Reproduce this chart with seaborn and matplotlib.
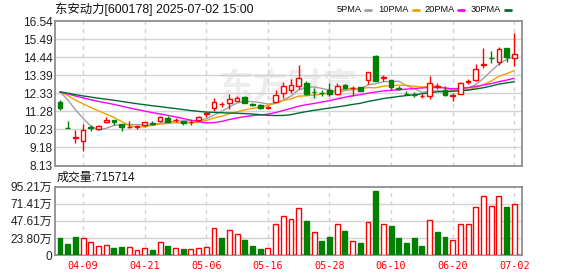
import matplotlib
matplotlib.use("Agg")
import matplotlib.pyplot as plt
from matplotlib.lines import Line2D
import seaborn as sns
import numpy as np
import pandas as pd

# ---------------- data ----------------
dates = ["04-03", "04-07", "04-08", "04-09", "04-10", "04-11", "04-14", "04-15", "04-16", "04-17",
         "04-18", "04-21", "04-22", "04-23", "04-24", "04-25", "04-28", "04-29", "04-30", "05-06",
         "05-07", "05-08", "05-09", "05-12", "05-13", "05-14", "05-15", "05-16", "05-19", "05-20",
         "05-21", "05-22", "05-23", "05-26", "05-27", "05-28", "05-29", "05-30", "06-03", "06-04",
         "06-05", "06-06", "06-09", "06-10", "06-11", "06-12", "06-13", "06-16", "06-17", "06-18",
         "06-19", "06-20", "06-23", "06-24", "06-25", "06-26", "06-27", "06-30", "07-01", "07-02"]

open_ = [11.83, 10.32, 9.74, 9.58, 10.35, 10.25, 10.64, 10.78, 10.53, 10.36,
         10.37, 10.47, 10.58, 10.70, 10.89, 10.77, 10.70, 10.64, 10.78, 11.15,
         11.45, 11.69, 11.74, 11.91, 12.14, 11.70, 11.66, 11.45, 11.83, 12.33,
         12.55, 12.73, 12.96, 12.42, 12.35, 12.52, 12.27, 12.84, 12.62, 12.69,
         13.09, 14.52, 13.20, 13.10, 12.65, 12.30, 12.26, 12.16, 12.19, 12.71,
         12.54, 12.20, 12.32, 13.01, 13.12, 13.99, 14.41, 14.16, 14.97, 14.37]
high = [11.94, 10.70, 10.20, 10.53, 10.49, 10.50, 10.93, 10.80, 10.56, 10.72,
        10.46, 10.67, 10.72, 11.00, 11.01, 10.87, 10.74, 10.80, 11.01, 11.24,
        12.06, 11.83, 12.31, 12.20, 12.16, 11.76, 11.70, 11.62, 12.51, 13.01,
        13.15, 14.00, 13.04, 12.65, 12.55, 12.92, 12.92, 12.90, 12.75, 12.72,
        13.60, 14.55, 13.42, 13.12, 12.75, 12.46, 12.40, 12.27, 13.31, 12.94,
        12.75, 12.36, 12.99, 13.17, 14.04, 14.97, 14.81, 15.05, 14.97, 15.86]
low = [11.35, 10.31, 9.43, 8.95, 10.14, 10.22, 10.62, 10.51, 10.16, 10.30,
       10.28, 10.39, 10.50, 10.68, 10.66, 10.66, 10.51, 10.47, 10.74, 10.96,
       11.31, 11.55, 11.41, 11.87, 11.76, 11.60, 11.43, 11.43, 11.83, 12.08,
       12.35, 12.56, 12.25, 12.03, 12.17, 12.17, 12.23, 12.61, 12.17, 12.44,
       12.88, 13.02, 13.07, 12.55, 12.50, 12.21, 12.13, 12.03, 11.99, 12.59,
       12.19, 11.88, 12.27, 12.88, 13.04, 13.81, 14.10, 13.96, 14.16, 13.91]
close = [11.47, 10.31, 9.78, 10.20, 10.33, 10.40, 10.76, 10.64, 10.37, 10.39,
         10.41, 10.66, 10.53, 10.95, 10.68, 10.80, 10.62, 10.68, 10.97, 11.20,
         11.85, 11.72, 11.99, 12.04, 11.78, 11.68, 11.47, 11.56, 12.26, 12.78,
         12.82, 13.25, 12.27, 12.40, 12.33, 12.31, 12.77, 12.65, 12.66, 12.46,
         13.58, 13.07, 13.27, 12.69, 12.56, 12.28, 12.22, 12.19, 12.92, 12.78,
         12.21, 12.23, 12.94, 13.06, 13.75, 14.02, 14.37, 14.93, 14.45, 14.62]
# volume in 万 (10k shares)
volume_wan = [23.7, 15.3, 25.1, 23.2, 18.1, 12.1, 13.5, 9.8, 11.1, 10.7,
              6.5, 9.3, 7.0, 17.6, 12.5, 9.3, 8.4, 7.9, 9.3, 10.7,
              37.2, 23.7, 34.4, 28.8, 20.9, 12.5, 8.4, 9.3, 43.2, 53.9,
              49.7, 65.0, 47.4, 31.6, 19.5, 25.1, 42.7, 33.4, 19.0, 16.7,
              45.5, 89.2, 42.7, 40.4, 23.7, 16.7, 23.7, 12.5, 48.3, 32.0,
              25.1, 20.4, 42.7, 42.7, 66.4, 82.2, 68.3, 82.2, 66.9, 71.5714]
# closes before the first visible day (moving-average warm-up, inferred from MA start levels)
hist_close = [12.38, 12.45, 12.40, 12.36, 12.42, 12.47, 12.43, 12.39, 12.41, 12.44,
              12.40, 12.37, 12.42, 12.46, 12.41, 12.38, 12.40, 12.43, 12.42, 12.39,
              12.36, 12.40, 12.44, 12.41, 12.43, 12.58, 12.66, 12.70, 12.64]

price_tick_labels = ["8.13", "9.18", "10.23", "11.28", "12.33", "13.39", "14.44", "15.49", "16.54"]
vol_tick_labels = ["0", "23.80万", "47.61万", "71.41万", "95.21万"]
date_tick_idx = [3, 11, 19, 27, 35, 43, 51, 59]
ma_windows = [5, 10, 20, 30]
ma_names = ["5PMA", "10PMA", "20PMA", "30PMA"]
ma_colors = ["#a0a0a0", "#f0a000", "#ff00ff", "#006a35"]
title_text = "东安动力[600178] 2025-07-02 15:00"
vol_title = "成交量:715714"

# ---------------- style ----------------
sns.set_theme(style="white")
plt.rcParams['font.family'] = ['Liberation Sans', 'Noto Sans CJK SC', 'DejaVu Sans']

RED = "#ff0000"
GREEN = "#008000"
GRID = "#d2d2d2"
SPINE = "#8f8f8f"

W, H = 578, 276
fig = plt.figure(figsize=(W / 100, H / 100), dpi=100)
fig.patch.set_facecolor("white")


def fx(px):
    return px / W


def fy(py):
    return 1 - py / H


L, R = 55, 522.3
ax_p = fig.add_axes([fx(L), fy(165.5), fx(R) - fx(L), fy(21) - fy(165.5)])
ax_v = fig.add_axes([fx(L), fy(255), fx(R) - fx(L), fy(186.7) - fy(255)])

n = len(close)
x = np.arange(n)
o = np.array(open_)
c = np.array(close)
hi = np.array(high)
lo = np.array(low)
vol = np.array(volume_wan) * 10000

# moving averages
full = pd.Series(hist_close + close)
ma_df = pd.DataFrame({"x": x})
for w, name in zip(ma_windows, ma_names):
    ma_df[name] = full.rolling(w).mean().iloc[len(hist_close):].to_numpy()

# watermark
ax_p.text(0.5, 0.54, "东方财富", transform=ax_p.transAxes, ha="center", va="center",
          fontsize=25, fontweight="bold", color="#ededed", zorder=0,
          family=["Noto Sans CJK SC"])

# MA lines
for name, col in zip(ma_names, ma_colors):
    sns.lineplot(data=ma_df, x="x", y=name, ax=ax_p, color=col, linewidth=1.0,
                 zorder=2, legend=False)

# candles
up = c >= o
bot = np.minimum(o, c)
top = np.maximum(o, c)
bh = np.maximum(top - bot, 0.015)
cols = np.where(up, RED, GREEN)
ax_p.vlines(x, lo, bot, colors=cols, linewidth=1.0, zorder=3)
ax_p.vlines(x, top, hi, colors=cols, linewidth=1.0, zorder=3)
bw = 0.62
ax_p.bar(x[up], bh[up], bottom=bot[up], width=bw, facecolor="white",
         edgecolor=RED, linewidth=1.0, zorder=4)
ax_p.bar(x[~up], bh[~up], bottom=bot[~up], width=bw, facecolor=GREEN,
         edgecolor=GREEN, linewidth=1.0, zorder=4)

# volume bars (colour by close vs previous close)
prev = np.concatenate([[hist_close[-1]], c[:-1]])
vup = c >= prev
ax_v.bar(x[vup], vol[vup], width=0.64, facecolor="white", edgecolor=RED,
         linewidth=1.0, zorder=3)
ax_v.bar(x[~vup], vol[~vup], width=0.64, facecolor=GREEN, edgecolor=GREEN,
         linewidth=1.0, zorder=3)

# axes formatting
pmin, pmax = float(price_tick_labels[0]), float(price_tick_labels[-1])
vmax = float(vol_tick_labels[-1].replace("万", "")) * 10000
for ax in (ax_p, ax_v):
    ax.set_xlim(-0.65, 60.04)
    ax.set_xticks(date_tick_idx)
    ax.grid(False)
    for sp in ax.spines.values():
        sp.set_visible(True)
        sp.set_color(SPINE)
        sp.set_linewidth(1.3)
    ax.tick_params(length=0)
    ax.set_xlabel("")
    ax.set_ylabel("")
    ax.set_facecolor("white")

ax_p.set_ylim(pmin, pmax)
pt = np.linspace(pmin, pmax, len(price_tick_labels))
ax_p.set_yticks(pt)
ax_p.set_yticklabels(price_tick_labels, fontsize=8.6, color="#222222")
ax_p.set_xticklabels([])
ax_p.tick_params(axis="y", pad=1.5)

ax_v.set_ylim(0, vmax)
vt = np.linspace(0, vmax, len(vol_tick_labels))
ax_v.set_yticks(vt)
ax_v.set_yticklabels(vol_tick_labels, fontsize=8.6, color="#222222")
ax_v.set_xticklabels([dates[i] for i in date_tick_idx], fontsize=7.3, color=RED,
                     family=["DejaVu Sans Mono"])
ax_v.tick_params(axis="y", pad=2)
ax_v.tick_params(axis="x", pad=4.5)

# grid lines
for ax, ticks in ((ax_p, pt), (ax_v, vt)):
    for t in ticks[1:-1]:
        ax.axhline(t, color=GRID, linewidth=1.0, zorder=1)
    for t in date_tick_idx:
        ax.axvline(t, color=GRID, linewidth=1.0, linestyle=(0, (3, 3)), zorder=1)

# texts
fig.text(fx(55), fy(9.5), title_text, ha="left", va="center", fontsize=8.9, color="#111111")
fig.text(fx(57), fy(177.5), vol_title, ha="left", va="center", fontsize=8.6, color="#111111")

# legend: label right edges and swatch positions (pixels)
leg_text_right = [362, 409, 455, 501]
leg_seg_left = [365, 413, 458, 505]
for tr, sl, name, col in zip(leg_text_right, leg_seg_left, ma_names, ma_colors):
    fig.text(fx(tr), fy(9.5), name, ha="right", va="center", fontsize=6.7, color="#111111")
    fig.add_artist(Line2D([fx(sl), fx(sl + 6)], [fy(9.5), fy(9.5)],
                          color=col, linewidth=2.0, transform=fig.transFigure))

fig.savefig("out.png", dpi=100, facecolor="white")
